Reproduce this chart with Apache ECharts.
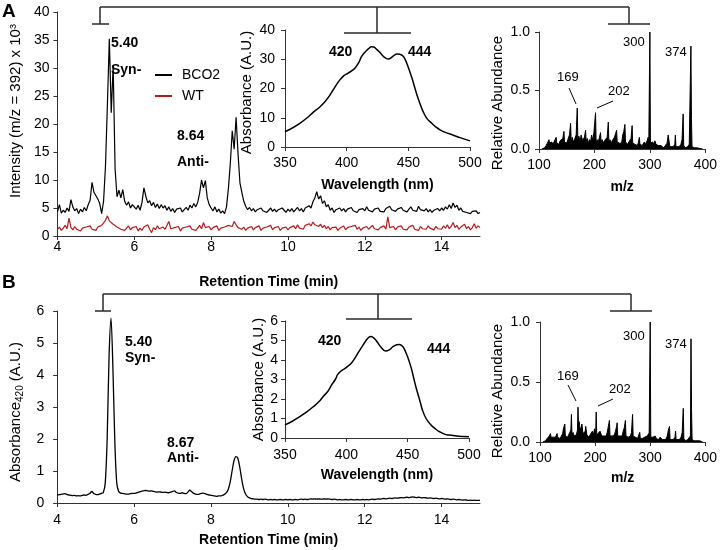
<!DOCTYPE html>
<html><head><meta charset="utf-8">
<script src="https://cdn.jsdelivr.net/npm/echarts@6/dist/echarts.min.js"></script>
<style>html,body{margin:0;padding:0;background:#fff}#c{width:720px;height:550px}</style>
</head><body><div id="c"></div>
<script>
const FONT = '"Liberation Sans", Arial, Helvetica, sans-serif';

// ---------- DATA ----------
// Retention-time sampling of the chromatograms (min)
const rtStart = 4, rtStep = 0.05;
// Panel A: extracted ion chromatogram m/z 392 (x10^3), one row per minute
const bco2 = [
 4.3,5.6,4.1,4.6,4.2,5.0,4.4,6.5,5.2,4.5,4.9,4.0,4.8,4.3,5.1,4.5,5.6,6.4,9.6,7.8,
 8.1,6.6,5.8,4.0,6.2,12.5,23.5,35.2,22.0,30.4,12.0,7.0,8.2,6.8,8.3,6.2,5.5,6.1,5.0,5.6,
 5.2,4.8,5.5,4.6,6.0,8.6,7.1,5.9,6.3,5.4,6.0,5.1,5.7,4.9,5.6,5.0,5.4,4.6,5.2,4.4,
 4.9,4.2,4.8,4.5,5.0,4.3,4.7,5.1,4.6,5.5,5.0,5.8,5.2,6.0,7.6,10.0,8.6,9.9,6.8,5.6,
 5.0,4.5,5.2,4.3,4.8,4.1,4.5,4.0,5.2,8.5,13.0,18.8,15.5,21.2,14.8,9.5,7.8,6.2,5.3,4.7,
 5.1,4.5,4.9,4.3,4.7,4.4,5.0,4.5,4.8,4.2,4.6,5.0,4.4,4.8,4.3,4.7,4.5,5.0,4.6,4.2,
 4.8,4.4,4.9,4.3,4.6,5.1,4.5,4.9,4.3,5.0,4.7,5.4,5.0,6.1,6.8,7.9,6.6,7.2,5.8,6.3,
 5.2,5.6,4.6,5.0,4.2,4.7,4.4,5.0,4.5,4.9,4.3,4.8,4.6,5.1,4.5,4.8,4.2,4.7,4.4,4.9,
 4.5,5.2,4.6,4.9,4.3,4.8,4.5,5.0,4.4,4.7,4.3,4.9,4.6,5.3,4.7,5.0,4.4,4.8,4.5,5.1,
 4.6,4.9,4.3,4.8,5.2,4.6,4.9,4.4,5.3,4.7,5.0,4.5,4.9,4.3,4.7,4.2,4.6,4.4,4.9,4.5,
 5.0,4.6,5.2,4.8,5.6,4.9,5.9,5.1,5.5,4.6,5.0,4.4,4.7,4.2,4.5,4.0,4.4,4.1,4.5,4.0,
 4.2
];
const wt = [
 1.2,1.6,1.0,1.4,1.9,1.3,3.2,1.5,1.1,1.7,1.2,1.5,0.9,1.4,1.1,1.6,1.3,1.8,1.2,1.5,
 1.0,1.6,1.3,1.9,2.2,2.8,3.6,2.7,3.0,2.1,2.4,1.6,1.9,1.2,1.5,1.0,1.4,1.8,1.1,1.5,
 1.2,1.7,0.9,1.4,1.0,1.6,1.3,2.0,1.2,0.6,1.5,1.1,1.8,1.3,1.0,1.6,1.2,1.4,2.6,1.3,
 1.0,1.5,1.2,1.7,0.9,1.4,1.1,1.6,1.3,1.8,1.2,1.5,1.0,1.4,1.9,1.3,2.4,1.5,1.2,1.7,
 1.1,1.5,1.3,1.8,1.0,1.4,1.2,1.6,1.4,1.9,2.1,1.7,2.6,2.0,1.5,1.8,1.2,1.6,1.0,1.4,
 1.2,1.7,1.1,1.5,1.3,1.8,1.0,1.4,1.2,1.6,1.3,1.9,1.1,1.5,1.2,1.7,1.0,1.4,1.3,1.6,
 1.1,1.5,1.2,1.8,1.3,2.0,1.4,1.7,1.2,1.9,1.6,2.2,1.8,2.5,2.0,2.3,1.7,2.1,1.5,1.9,
 1.3,1.7,1.1,1.5,1.2,1.6,1.0,1.4,1.3,1.8,1.1,1.5,1.2,1.7,1.4,1.9,1.2,1.6,1.0,1.4,
 1.3,1.7,1.2,1.5,1.9,1.3,1.6,1.1,1.5,1.4,1.8,1.2,3.4,1.5,1.3,1.7,1.1,1.6,1.3,1.8,
 1.2,1.5,1.1,1.6,1.3,1.9,1.2,1.5,1.0,1.7,1.3,1.6,1.2,1.8,1.4,1.5,1.1,1.7,1.3,1.6,
 1.2,1.8,1.4,2.0,1.3,1.7,2.4,1.5,1.9,1.2,1.6,1.4,2.1,1.3,1.7,1.1,1.5,2.2,1.4,1.8,
 1.5
];
// Panel B: absorbance at 420 nm chromatogram
const uvB = [
 0.25,0.26,0.27,0.28,0.29,0.27,0.25,0.24,0.23,0.24,0.22,0.23,0.22,0.24,0.25,0.24,0.27,0.30,0.36,0.30,
 0.27,0.26,0.28,0.30,0.33,0.62,2.0,4.6,5.78,4.2,1.9,0.62,0.36,0.31,0.30,0.29,0.28,0.28,0.29,0.30,
 0.30,0.31,0.33,0.35,0.37,0.38,0.39,0.38,0.37,0.38,0.36,0.35,0.34,0.35,0.34,0.33,0.34,0.33,0.32,0.34,
 0.36,0.38,0.33,0.31,0.30,0.32,0.30,0.29,0.34,0.40,0.35,0.30,0.28,0.27,0.28,0.30,0.31,0.29,0.27,0.25,
 0.24,0.23,0.22,0.21,0.22,0.22,0.24,0.27,0.32,0.42,0.65,1.00,1.32,1.45,1.40,1.12,0.75,0.45,0.28,0.20,
 0.16,0.14,0.13,0.12,0.12,0.11,0.12,0.11,0.12,0.11,0.10,0.11,0.10,0.11,0.10,0.10,0.11,0.10,0.10,0.11,
 0.10,0.11,0.10,0.10,0.11,0.10,0.11,0.12,0.11,0.12,0.11,0.12,0.13,0.12,0.13,0.12,0.13,0.12,0.12,0.13,
 0.12,0.13,0.12,0.11,0.12,0.11,0.10,0.11,0.10,0.10,0.11,0.10,0.10,0.11,0.10,0.10,0.11,0.10,0.10,0.11,
 0.10,0.11,0.10,0.11,0.12,0.11,0.12,0.13,0.12,0.13,0.14,0.13,0.14,0.15,0.14,0.15,0.16,0.15,0.16,0.17,
 0.16,0.17,0.18,0.17,0.18,0.19,0.18,0.17,0.18,0.17,0.16,0.17,0.16,0.15,0.16,0.15,0.14,0.15,0.14,0.13,
 0.14,0.13,0.12,0.13,0.12,0.11,0.12,0.11,0.10,0.11,0.10,0.09,0.10,0.09,0.08,0.09,0.08,0.09,0.08,0.08,
 0.08
];
// Inset UV-Vis spectra
const wlA = [350,356,362,368,373,378,382,386,389,392,395,398,401,404,407,410,412,415,418,420,422,424,427,430,432,434,436,439,441,443,445,447,450,453,455,457,460,462,465,469,473,476,480,486,492,500];
const absA = [5.2,6.5,8.1,10.0,11.9,13.6,15.3,17.5,19.5,21.5,23.2,24.5,25.2,26.0,27.1,29.0,30.9,32.5,33.7,34.3,34.2,33.5,32.3,30.9,30.3,30.1,30.5,31.5,31.8,31.7,31.3,30.3,27.2,23.5,20.6,17.8,14.2,12.1,9.8,8.1,6.6,5.8,5.0,4.1,3.2,2.1];
const wlB = [350,356,362,368,373,378,381,385,388,391,393,396,399,402,404,407,411,414,417,420,422,424,426,428,432,435,438,441,443,445,447,450,453,455,457,460,462,465,469,473,476,480,484,490,495,500];
const absB = [0.67,0.86,1.09,1.35,1.6,1.88,2.12,2.4,2.72,3.0,3.26,3.45,3.57,3.72,3.83,4.1,4.51,4.8,5.08,5.2,5.15,5.03,4.85,4.68,4.46,4.52,4.68,4.78,4.8,4.75,4.6,4.15,3.57,3.05,2.55,1.9,1.44,1.0,0.67,0.45,0.32,0.2,0.15,0.1,0.08,0.07];
// Mass spectra [m/z, relative abundance]
const msA = [[105,0],[110,0.01],[113,0.03],[115,0.05],[117,0.04],[118,0.08],[119,0.05],[121,0.04],[123,0.06],[125,0.04],[127,0.06],[129,0.05],[131,0.1],[132,0.05],[134,0.06],[136,0.04],[138,0.07],[141,0.06],[143,0.09],[145,0.15],[146,0.06],[148,0.07],[150,0.05],[152,0.08],[154,0.09],[155,0.12],[157,0.22],[158,0.07],[160,0.1],[162,0.06],[164,0.08],[166,0.07],[167,0.12],[169,0.35],[170,0.09],[172,0.11],[174,0.06],[176,0.12],[178,0.08],[180,0.07],[182,0.1],[184,0.16],[185,0.07],[187,0.09],[189,0.05],[191,0.08],[193,0.06],[195,0.12],[197,0.07],[199,0.14],[202,0.31],[203,0.06],[205,0.08],[207,0.06],[209,0.1],[211,0.14],[212,0.06],[214,0.08],[216,0.05],[218,0.07],[220,0.06],[223,0.1],[225,0.23],[226,0.06],[228,0.08],[230,0.05],[232,0.07],[234,0.06],[236,0.1],[238,0.13],[240,0.16],[241,0.06],[243,0.06],[245,0.05],[247,0.06],[249,0.05],[251,0.12],[253,0.15],[255,0.21],[256,0.06],[258,0.05],[260,0.04],[262,0.06],[264,0.05],[266,0.09],[268,0.2],[269,0.05],[271,0.05],[273,0.04],[275,0.05],[277,0.03],[279,0.05],[281,0.1],[282,0.04],[284,0.04],[286,0.03],[288,0.04],[290,0.06],[292,0.04],[295,0.07],[297,0.1],[298,0.03],[299,0.02],[300,1.0],[301,0.05],[303,0.04],[305,0.06],[307,0.04],[309,0.07],[311,0.04],[313,0.05],[315,0.03],[318,0.04],[320,0.03],[322,0.02],[325,0.01],[328,0.02],[331,0.05],[333,0.12],[335,0.11],[336,0.02],[339,0.01],[342,0.02],[345,0.04],[346,0.12],[347,0.02],[350,0.01],[353,0.02],[356,0.04],[358,0.08],[360,0.3],[361,0.03],[364,0.01],[368,0.02],[371,0.04],[373,0.05],[374,0.88],[375,0.26],[376,0.02],[380,0.01],[385,0.01],[390,0.005],[395,0]];
const msB = [[105,0],[110,0.01],[113,0.03],[115,0.04],[117,0.05],[119,0.07],[120,0.04],[122,0.05],[124,0.04],[126,0.05],[128,0.04],[131,0.07],[132,0.04],[134,0.05],[136,0.03],[139,0.05],[141,0.07],[143,0.12],[145,0.15],[146,0.05],[148,0.06],[150,0.04],[152,0.06],[154,0.08],[156,0.1],[157,0.23],[158,0.06],[160,0.08],[162,0.05],[164,0.06],[166,0.06],[168,0.1],[169,0.29],[170,0.09],[171,0.17],[172,0.13],[174,0.1],[176,0.15],[178,0.07],[180,0.06],[182,0.09],[183,0.13],[185,0.06],[187,0.07],[189,0.04],[191,0.06],[193,0.05],[195,0.09],[197,0.06],[199,0.11],[201,0.07],[202,0.25],[203,0.05],[205,0.07],[207,0.06],[209,0.09],[211,0.08],[212,0.05],[214,0.06],[216,0.05],[218,0.06],[220,0.05],[222,0.08],[224,0.13],[226,0.18],[227,0.05],[229,0.06],[231,0.05],[233,0.06],[235,0.06],[237,0.09],[239,0.13],[240,0.16],[241,0.05],[243,0.06],[245,0.05],[247,0.06],[249,0.05],[251,0.09],[253,0.12],[255,0.18],[256,0.05],[258,0.05],[260,0.04],[262,0.05],[264,0.05],[266,0.08],[268,0.23],[269,0.05],[271,0.05],[273,0.04],[275,0.04],[277,0.03],[279,0.04],[281,0.08],[282,0.03],[284,0.03],[286,0.03],[288,0.03],[290,0.04],[292,0.03],[295,0.05],[297,0.07],[298,0.02],[299,0.02],[300,1.0],[301,0.04],[303,0.03],[305,0.04],[307,0.03],[309,0.05],[311,0.03],[313,0.04],[315,0.02],[318,0.04],[320,0.03],[322,0.02],[325,0.01],[328,0.02],[331,0.05],[333,0.1],[335,0.13],[336,0.02],[339,0.01],[342,0.02],[345,0.04],[346,0.09],[347,0.02],[350,0.01],[353,0.02],[356,0.04],[358,0.08],[360,0.28],[361,0.03],[364,0.01],[368,0.02],[371,0.03],[373,0.05],[374,0.86],[375,0.27],[376,0.02],[380,0.01],[385,0.01],[390,0.01],[395,0]];
// Axis ranges / tick steps
const rtAxis = [4, 15, 2];
const wlAxis = [350, 500, 50];
const mzAxis = [100, 400, 100];
const yAxisA = [0, 40, 5], yInsetA = [0, 40, 10], yAxisB = [0, 6, 1], yInsetB = [0, 6, 1], yMS = [0, 1, 0.5];
// Peak annotations
const peakLabelsA = ['5.40', 'Syn-', '8.64', 'Anti-'];
const peakLabelsB = ['5.40', 'Syn-', '8.67', 'Anti-'];
const uvLabels = ['420', '444'];
const msLabels = ['300', '374', '169', '202'];

// ---------- BUILD ----------
const rtPairs = vals => vals.map((v, i) => [+(rtStart + i * rtStep).toFixed(2), v]);
const zip = (xs, ys) => xs.map((x, i) => [x, ys[i]]);

const AX = '#333';
function xAx(grid, r, name, gap, margin) {
  return {
    type: 'value', gridIndex: grid, min: r[0], max: r[1], interval: r[2],
    name, nameLocation: 'middle', nameGap: gap,
    nameTextStyle: { fontFamily: FONT, fontSize: 14, fontWeight: 'bold', color: '#000' },
    axisLine: { show: true, onZero: false, lineStyle: { color: AX, width: 1 } },
    axisTick: { show: true, length: 4, lineStyle: { color: AX } },
    axisLabel: { fontFamily: FONT, fontSize: 14, color: '#000', margin, showMaxLabel: r[1] % r[2] === 0 },
    splitLine: { show: false }
  };
}
function yAx(grid, r, name, gap, margin, pad) {
  return {
    type: 'value', gridIndex: grid, min: r[0], max: r[1], interval: r[2],
    name, nameLocation: 'middle', nameGap: gap,
    nameTextStyle: { fontFamily: FONT, fontSize: 15, color: '#000', padding: pad },
    axisLine: { show: true, onZero: false, lineStyle: { color: AX, width: 1 } },
    axisTick: { show: true, length: 4, lineStyle: { color: AX } },
    axisLabel: { fontFamily: FONT, fontSize: 14, color: '#000', margin },
    splitLine: { show: false }
  };
}

const option = {
  animation: false,
  backgroundColor: '#fff',
  textStyle: { fontFamily: FONT },
  grid: [
    { left: 48, top: 12, width: 432, height: 224 },
    { left: 285, top: 30, width: 185, height: 117 },
    { left: 539, top: 32, width: 167, height: 117 },
    { left: 48, top: 311, width: 432, height: 192 },
    { left: 285, top: 321, width: 184, height: 117 },
    { left: 540, top: 322, width: 167, height: 120 }
  ],
  xAxis: [
    xAx(0, rtAxis, 'Retention Time (min)', 39, 4),
    xAx(1, wlAxis, 'Wavelength (nm)', 31, 9),
    xAx(2, mzAxis, 'm/z', 31, 9),
    xAx(3, rtAxis, 'Retention Time (min)', 30, 10),
    xAx(4, wlAxis, 'Wavelength (nm)', 30, 10),
    xAx(5, mzAxis, 'm/z', 29, 9)
  ],
  yAxis: [
    yAx(0, yAxisA, 'Intensity (m/z = 392) x 10\u00b3', 28, 8, [0, 0, 0, 26]),
    yAx(1, yInsetA, 'Absorbance (A.U.)', 31, 10, [0, 8, 0, 0]),
    yAx(2, yMS, 'Relative Abundance', 34, 9, [0, 25, 0, 0]),
    yAx(3, yAxisB, '{a|Absorbance}{s|420}{a| (A.U.)}', 30, 13, [0, 10, 0, 0]),
    yAx(4, yInsetB, 'Absorbance (A.U.)', 19, 7, [0, 0, 0, 0]),
    yAx(5, yMS, 'Relative Abundance', 35, 10, [0, 18, 0, 0])
  ],
  legend: {
    data: ['BCO2', 'WT'], orient: 'vertical', left: 150, top: 63,
    itemWidth: 17, itemHeight: 2, itemGap: 7, icon: 'rect',
    selectedMode: false,
    textStyle: { fontFamily: FONT, fontSize: 14, color: '#000', padding: [0, 0, 0, 5] }
  },
  series: [
    { name: 'BCO2', type: 'line', xAxisIndex: 0, yAxisIndex: 0, data: rtPairs(bco2), symbol: 'none', color: '#000', lineStyle: { color: '#000', width: 1.2 }, z: 3 },
    { name: 'WT', type: 'line', xAxisIndex: 0, yAxisIndex: 0, data: rtPairs(wt), symbol: 'none', color: '#B21C1C', lineStyle: { color: '#B21C1C', width: 1.2 }, z: 2 },
    { name: 'UV A', type: 'line', xAxisIndex: 1, yAxisIndex: 1, data: zip(wlA, absA), symbol: 'none', smooth: 0.4, lineStyle: { color: '#000', width: 1.5 } },
    { name: 'MS A', type: 'line', xAxisIndex: 2, yAxisIndex: 2, data: msA, symbol: 'none', lineStyle: { color: '#000', width: 1 }, areaStyle: { color: '#000', opacity: 1 } },
    { name: 'A420', type: 'line', xAxisIndex: 3, yAxisIndex: 3, data: rtPairs(uvB), symbol: 'none', smooth: 0.3, lineStyle: { color: '#000', width: 1.3 } },
    { name: 'UV B', type: 'line', xAxisIndex: 4, yAxisIndex: 4, data: zip(wlB, absB), symbol: 'none', smooth: 0.4, lineStyle: { color: '#000', width: 1.5 } },
    { name: 'MS B', type: 'line', xAxisIndex: 5, yAxisIndex: 5, data: msB, symbol: 'none', lineStyle: { color: '#000', width: 1 }, areaStyle: { color: '#000', opacity: 1 } }
  ]
};
option.yAxis[2].axisLabel.formatter = v => v.toFixed(1);
option.yAxis[5].axisLabel.formatter = v => v.toFixed(1);
option.yAxis[3].nameTextStyle.rich = {
  a: { fontFamily: FONT, fontSize: 15, color: '#000', lineHeight: 20, verticalAlign: 'middle' },
  s: { fontFamily: FONT, fontSize: 10, color: '#000', lineHeight: 20, verticalAlign: 'bottom' }
};

// ---------- ANNOTATIONS ----------
const g = [];
function seg(x1, y1, x2, y2, w, c) { g.push({ type: 'line', silent: true, shape: { x1, y1, x2, y2 }, style: { stroke: c || '#2a2a2a', lineWidth: w || 1.5 } }); }
function txt(t, x, y, bold, size, align) {
  g.push({ type: 'text', silent: true, x, y, style: { text: t, fill: '#000', font: (bold ? 'bold ' : '') + (size || 14) + 'px ' + FONT, textAlign: align || 'left', textVerticalAlign: 'middle' } });
}
// brackets panel A
seg(100, 7, 629, 7); seg(100, 7, 100, 24); seg(92, 24, 109, 24);
seg(377, 7, 377, 33); seg(344, 33, 411, 33);
seg(629, 7, 629, 24); seg(608, 24, 650, 24);
// brackets panel B
seg(103, 294, 631, 294); seg(103, 294, 103, 311); seg(95, 311, 111, 311);
seg(378, 294, 378, 319); seg(346, 319, 412, 319);
seg(631, 294, 631, 311); seg(610, 311, 652, 311);
// panel letters
txt('A', 2, 12, true, 19); txt('B', 2, 283, true, 19);
// panel A labels
txt(peakLabelsA[0], 111, 43, true); txt(peakLabelsA[1], 111, 70, true);
txt(peakLabelsA[2], 177, 136, true); txt(peakLabelsA[3], 177, 162, true);
txt(uvLabels[0], 329, 52, true); txt(uvLabels[1], 408, 52, true);
txt(msLabels[0], 623, 42, false, 13); txt(msLabels[1], 665, 52, false, 13);
txt(msLabels[2], 557, 77, false, 13); txt(msLabels[3], 608, 91, false, 13);
seg(569, 88, 576, 104, 1, '#000'); seg(613, 101, 597, 108, 1, '#000');
// panel B labels
txt(peakLabelsB[0], 125, 342, true); txt(peakLabelsB[1], 125, 358, true);
txt(peakLabelsB[2], 167, 443, true); txt(peakLabelsB[3], 167, 458, true);
txt(uvLabels[0], 318, 341, true); txt(uvLabels[1], 427, 349, true);
txt(msLabels[0], 623, 336, false, 13); txt(msLabels[1], 665, 344, false, 13);
txt(msLabels[2], 557, 376, false, 13); txt(msLabels[3], 609, 389, false, 13);
seg(568, 385, 576, 401, 1, '#000'); seg(613, 399, 598, 406, 1, '#000');
option.graphic = { elements: g };

const chart = echarts.init(document.getElementById('c'), null, { renderer: 'canvas', width: 720, height: 550 });
chart.setOption(option);
</script></body></html>
